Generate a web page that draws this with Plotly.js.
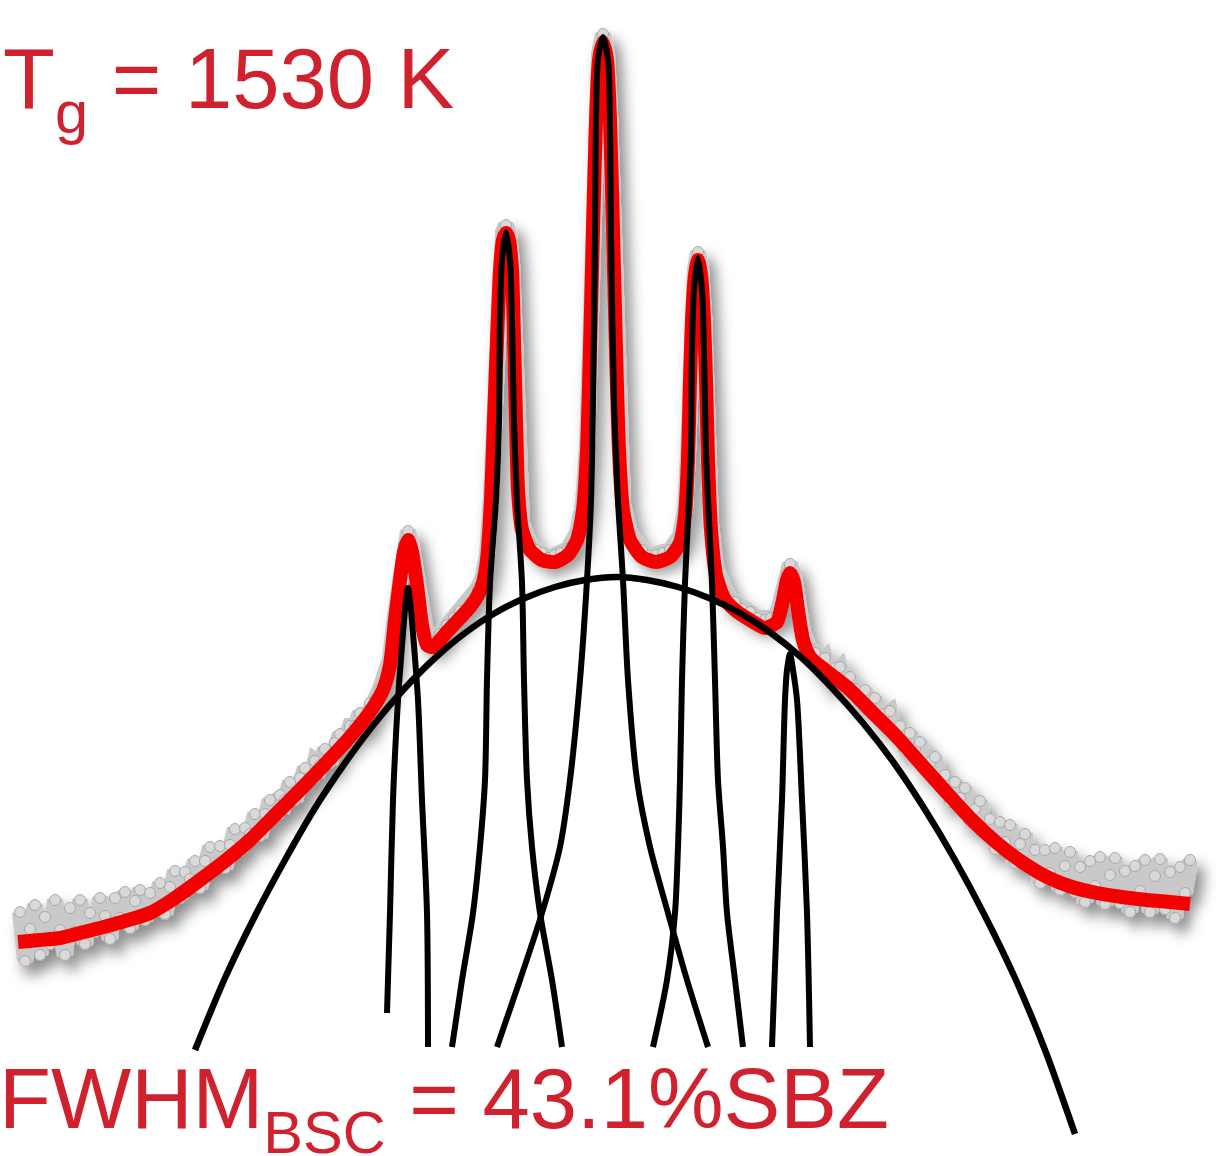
<!DOCTYPE html>
<html>
<head>
<meta charset="utf-8">
<script src="https://cdn.plot.ly/plotly-3.0.1.min.js"></script>
<style>
html,body{margin:0;padding:0;background:#fff;}
#chart{width:1220px;height:1156px;}
</style>
</head>
<body>
<div id="chart"></div>
<script>
// ---- measured spectrum (grey points) ----
const dataX = [
  20,25,30,35,40,45,50,55,60,65,70,75,80,85,90,95,100,105,110,115,120,125,130,135,140,145,150,155,160,165,170,175,180,185,190,195,200,205,210,215,220,225,230,235,240,245,250,255,260,265,270,275,280,285,290,295,300,305,310,315,320,325,330,335,340,345,350,355,360,365,370,375,380,
  390,395,400,404,408,412,417,422,427,433,440,447,454,460,470,478,483,487,491,494,497,500,503,506,509,512,514,516,518,522,530,536,542,548,555,561,568,577,583,587,590,593,596,599,603,607,610,613,616,619,623,630,636,642,649,656,663,670,680,685,688,690,692,695,698,701,704,706,708,711,716,724,730,735,742,750,757,765,771,777,783,787,790,794,798,803,810,
  815,820,825,830,835,840,845,850,855,860,865,870,875,880,885,890,895,900,905,910,915,920,925,930,935,940,945,950,955,960,965,970,975,980,985,990,995,1000,1005,1010,1015,1020,1025,1030,1035,1040,1045,1050,1055,1060,1065,1070,1075,1080,1085,1090,1095,1100,1105,1110,1115,1120,1125,1130,1135,1140,1145,1150,1155,1160,1165,1170,1175,1180,1185,1190];
const dataY = [
  244,195,227,251,201,239,212,256,226,201,248,224,256,212,243,224,258,240,217,258,238,264,228,255,266,236,263,247,273,242,269,285,258,284,277,295,268,295,309,288,310,288,311,327,305,328,322,342,320,342,356,339,361,356,374,356,378,388,375,395,391,407,393,413,422,414,430,430,443,436,453,456,467,
  497,541,582,611,625,609,577,537,518,514,522,531,538,545,553,568,580,602,662,742,822,892,924,931,923,893,823,742,672,633,612,606,603,598,601,603,607,623,653,712,812,932,1042,1102,1122,1102,1042,932,812,712,652,623,610,606,600,601,603,606,620,647,702,782,842,887,904,888,842,782,702,632,588,565,556,554,547,544,538,536,538,541,563,583,592,581,553,523,507,
  503,493,498,480,488,489,472,479,467,453,466,451,458,434,442,445,424,430,405,423,407,414,385,394,399,372,381,354,374,358,368,334,347,355,324,337,307,334,314,331,293,312,322,287,306,273,306,283,308,266,290,304,264,289,254,295,270,299,252,281,298,253,285,244,290,265,296,244,280,297,247,284,238,289,263,296];

// ---- total fit (red) ----
const fitX = [18,40,60,80,100,125,150,175,200,225,250,275,300,325,350,370,383,390,395,400,404,408,412,417,422,427,433,447,460,470,478,483,487,491,494,497,500,503,506,509,512,514,516,518,522,530,542,555,568,577,583,587,590,593,596,599,603,607,610,613,616,619,623,630,642,656,670,680,685,688,690,692,695,698,701,704,706,708,711,716,724,735,750,765,777,783,787,790,794,798,803,810,825,847,872,897,922,947,972,997,1022,1047,1072,1097,1122,1147,1170,1190];
const fitY = [214,216,218,223,228,235,243,258,276,295,316,341,366,392,419,444,466,491,536,576,604,616,604,571,531,511,509,524,538,549,561,573,596,656,736,816,886,916,923,916,886,816,736,666,626,606,596,594,601,616,646,706,806,926,1036,1096,1114,1096,1036,926,806,706,646,616,599,594,599,613,641,696,776,836,881,896,881,836,776,696,626,581,558,546,536,528,534,556,576,583,574,546,516,499,486,469,444,419,391,363,336,313,294,279,269,263,259,256,254,252];

// ---- broad side-band component (BSC) ----
const bscX = [195,225,255,285,315,345,375,405,435,465,495,525,555,585,617,647,678,709,740,771,802,832,863,894,924,955,985,1015,1045,1075];
const bscY = [106,178,240,296,348,393,433,468,498,523,543,558,569,576,579,576,569,558,543,523,498,468,433,393,348,296,240,178,106,22];

// ---- narrow peak components ----
const p1X = [387,390,393,398,403,405,408,411,413,418,422,427,428];
const p1Y = [143,243,356,456,523,546,568,546,523,456,356,243,109];
const p2X = [452,462,473,480,485,487,490,496,499,500,502,506,510,512,514,517,522,524,527,532,540,552,562];
const p2Y = [109,176,243,309,376,476,573,656,736,836,896,924,896,836,736,656,573,476,376,309,243,176,109];
const p3X = [497,520,542,560,570,580,587,591,593,595,596,598,603,608,610,611,614,618,623,628,637,650,668,687,708];
const p3Y = [109,176,243,309,376,476,576,656,756,923,1036,1096,1119,1096,1036,923,756,656,576,476,376,309,243,176,109];
const p4X = [653,667,675,678,680,682,685,688,691,692,694,698,702,704,706,709,712,715,718,723,727,735,743];
const p4Y = [109,176,243,309,376,476,573,636,706,806,866,898,866,806,706,636,573,476,376,309,243,176,109];
const p5X = [772,777,782,785,787,790,793,797,802,807,810];
const p5Y = [109,243,356,456,486,502,486,456,356,243,109];

const labelTop = 'T<sub>g</sub> = 1530 K';
const labelBottom = 'FWHM<sub>BSC</sub> = 43.1%SBZ';

const black = '#000000';
function comp(x, y, w) {
  return {x: x, y: y, type: 'scatter', mode: 'lines',
    line: {color: black, width: w || 6, shape: 'spline', smoothing: 0.8},
    hoverinfo: 'skip', cliponaxis: false};
}

const traces = [
  {x: dataX, y: dataY, type: 'scatter', mode: 'lines+markers',
   line: {color: '#c9c9c9', width: 16, shape: 'linear'},
   marker: {symbol: 'circle', size: 11, color: '#d9d9d9', line: {color: '#a9a9a9', width: 1}},
   hoverinfo: 'skip'},
  {x: fitX, y: fitY, type: 'scatter', mode: 'lines',
   line: {color: '#f50000', width: 14, shape: 'spline', smoothing: 0.6}, hoverinfo: 'skip'},
  comp(bscX, bscY, 6.5),
  comp(p1X, p1Y), comp(p2X, p2Y), comp(p3X, p3Y), comp(p4X, p4Y), comp(p5X, p5Y)
];

const red = '#d0222e';
const fam = 'Liberation Sans, Arial, sans-serif';
const layout = {
  width: 1220, height: 1156,
  margin: {l: 0, r: 0, t: 0, b: 0, pad: 0},
  paper_bgcolor: '#ffffff', plot_bgcolor: '#ffffff',
  showlegend: false,
  xaxis: {range: [0, 1220], visible: false, fixedrange: true},
  yaxis: {range: [0, 1156], visible: false, fixedrange: true},
  font: {family: fam},
  annotations: [
    {x: 0, y: 0.975, xref: 'paper', yref: 'paper', xanchor: 'left', yanchor: 'top', xshift: 1,
     text: labelTop, showarrow: false, font: {size: 85, color: red, family: fam}},
    {x: 0, y: 0.0925, xref: 'paper', yref: 'paper', xanchor: 'left', yanchor: 'top', xshift: -3,
     text: labelBottom, showarrow: false, font: {size: 85, color: red, family: fam}}
  ]
};

Plotly.newPlot('chart', traces, layout, {staticPlot: true, displayModeBar: false}).then(function (gd) {
  const NS = 'http://www.w3.org/2000/svg';
  const svg = gd.querySelector('.main-svg');
  let defs = svg.querySelector('defs');
  if (!defs) { defs = document.createElementNS(NS, 'defs'); svg.insertBefore(defs, svg.firstChild); }
  const f = document.createElementNS(NS, 'filter');
  f.setAttribute('id', 'greyShadow');
  f.setAttribute('x', '-10%'); f.setAttribute('y', '-10%');
  f.setAttribute('width', '130%'); f.setAttribute('height', '140%');
  const ds = document.createElementNS(NS, 'feDropShadow');
  ds.setAttribute('dx', '7'); ds.setAttribute('dy', '10');
  ds.setAttribute('stdDeviation', '7');
  ds.setAttribute('flood-color', '#000'); ds.setAttribute('flood-opacity', '0.45');
  f.appendChild(ds);
  defs.appendChild(f);
  const first = gd.querySelector('.scatterlayer .trace');
  if (first) first.setAttribute('filter', 'url(#greyShadow)');
  // deeper subscripts, as in the original figure
  gd.querySelectorAll('.annotation-text tspan').forEach(function (t) {
    const dy = t.getAttribute('dy');
    if (dy === '0.3em') t.setAttribute('dy', '0.42em');
    else if (dy === '-0.21em') t.setAttribute('dy', '-0.29em');
  });
});
</script>
</body>
</html>
